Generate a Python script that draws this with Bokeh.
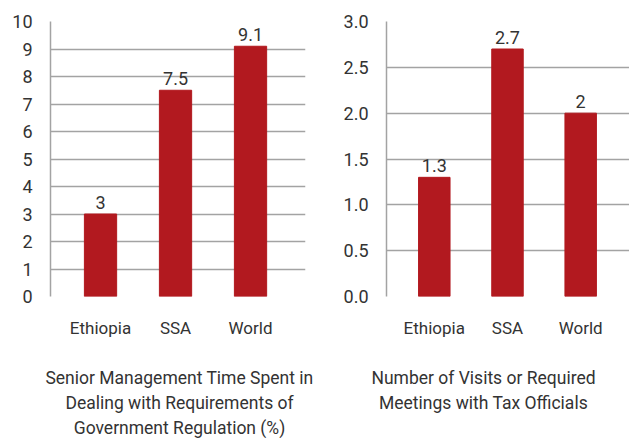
from bokeh.plotting import figure
from bokeh.layouts import row, column
from bokeh.models import ColumnDataSource, FixedTicker, Range1d
from bokeh.core.properties import value
from bokeh.embed import file_html
from bokeh.resources import INLINE

categories = ["Ethiopia", "SSA", "World"]
mgmt_time = [3, 7.5, 9.1]
mgmt_labels = ["3", "7.5", "9.1"]
tax_visits = [1.3, 2.7, 2.0]
tax_labels = ["1.3", "2.7", "2"]
left_ticks = [0, 1, 2, 3, 4, 5, 6, 7, 8, 9, 10]
left_tick_labels = ["0", "1", "2", "3", "4", "5", "6", "7", "8", "9", "10"]
right_ticks = [0.0, 0.5, 1.0, 1.5, 2.0, 2.5, 3.0]
right_tick_labels = ["0.0", "0.5", "1.0", "1.5", "2.0", "2.5", "3.0"]
left_title = ["Senior Management Time Spent in", "Dealing with Requirements of", "Government Regulation (%)"]
right_title = ["Number of Visits or Required", "Meetings with Tax Officials"]

FONT = "Roboto"
TEXT = "#333333"
GRID = "#a3a3a3"
BAR = "#b2191f"


def make(values, labels, ticks, tick_labels, ymax, xr, width, bl, br):
    xs = list(range(1, len(categories) + 1))
    src = ColumnDataSource(dict(x=xs, y=values, lab=labels))
    p = figure(width=width, height=340, output_backend="svg", toolbar_location=None,
               x_range=Range1d(*xr), y_range=Range1d(0, ymax),
               min_border_left=bl, min_border_right=br, min_border_top=21,
               min_border_bottom=43)
    p.outline_line_color = None
    p.vbar(x="x", top="y", width=0.43, source=src, color=BAR)
    p.text(x="x", y="y", text="lab", source=src, text_align="center",
           text_baseline="bottom", y_offset=-5, text_font_size="18px",
           text_color=TEXT, text_font=value(FONT))
    p.yaxis.ticker = FixedTicker(ticks=ticks)
    p.yaxis.major_label_overrides = {t: l for t, l in zip(ticks, tick_labels)}
    p.yaxis.major_tick_line_color = None
    p.yaxis.minor_tick_line_color = None
    p.yaxis.axis_line_color = GRID
    p.yaxis.axis_line_width = 1.5
    p.yaxis.major_label_text_font = FONT
    p.yaxis.major_label_text_font_size = "18px"
    p.yaxis.major_label_text_color = TEXT
    p.yaxis.major_label_standoff = 12
    p.xaxis.ticker = FixedTicker(ticks=xs)
    p.xaxis.major_label_overrides = {x: c for x, c in zip(xs, categories)}
    p.xaxis.major_tick_line_color = None
    p.xaxis.minor_tick_line_color = None
    p.xaxis.axis_line_color = None
    p.xaxis.major_label_text_font = FONT
    p.xaxis.major_label_text_font_size = "17px"
    p.xaxis.major_label_text_color = TEXT
    p.xaxis.major_label_standoff = 15
    p.xgrid.visible = False
    p.ygrid.ticker = FixedTicker(ticks=ticks)
    p.ygrid.grid_line_color = GRID
    p.ygrid.grid_line_width = 1.5
    return p


p1 = make(mgmt_time, mgmt_labels, left_ticks, left_tick_labels, 10,
          (0.333, 3.733), 340, 50, 35)
p2 = make(tax_visits, tax_labels, right_ticks, right_tick_labels, 3.0,
          (0.347, 3.667), 289, 40, 0)

# caption strip below both panels
p3 = figure(width=629, height=98, output_backend="svg", toolbar_location=None,
            x_range=Range1d(0, 629), y_range=Range1d(98, 0),
            x_axis_type=None, y_axis_type=None,
            min_border_left=0, min_border_right=0, min_border_top=0, min_border_bottom=0)
p3.outline_line_color = None
p3.grid.visible = False
cap_x = [179] * len(left_title) + [483] * len(right_title)
cap_y = [37, 62, 87][:len(left_title)] + [37, 62][:len(right_title)]
cap_text = left_title + right_title
p3.text(x=cap_x, y=cap_y, text=cap_text, text_align="center", text_baseline="middle",
        text_font=value(FONT), text_font_size="17.5px", text_color=TEXT)

p = column(row(p1, p2), p3)
open("out.html", "w").write(file_html(p, INLINE))
